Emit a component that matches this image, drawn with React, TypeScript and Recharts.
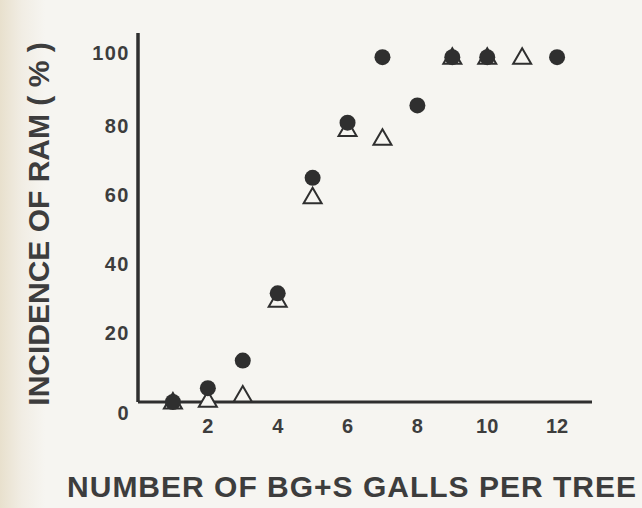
import { ScatterChart, Scatter, XAxis, YAxis, Label } from "recharts";

// number of BG+S galls per tree
const dotX = [1, 2, 3, 4, 5, 6, 7, 8, 9, 10, 12];
const dotY = [0, 4, 12, 31.5, 65, 81, 100, 86, 100, 100, 100];

const triX = [1, 2, 3, 4, 5, 6, 7, 9, 10, 11];
const triY = [0, 0.5, 2, 29.5, 59.5, 79, 76.5, 100, 100, 100];

const xTicks = [2, 4, 6, 8, 10, 12];
const yTicks = [0, 20, 40, 60, 80, 100];

const ink = "#2f2f2f";
const textInk = "#3d3d3d";
const font = '"Liberation Sans", Arial, sans-serif';

const dots = dotX.map((x, i) => ({ x, y: dotY[i] }));
const tris = triX.map((x, i) => ({ x, y: triY[i] }));

const Dot = (props: any) => (
  <circle cx={props.cx} cy={props.cy} r={8} fill={ink} />
);

const Tri = (props: any) => {
  const { cx, cy } = props;
  return (
    <polygon
      points={`${cx},${cy - 9} ${cx - 9},${cy + 6.5} ${cx + 9},${cy + 6.5}`}
      fill="#f6f5f1"
      stroke={ink}
      strokeWidth={2}
    />
  );
};

const YTick = (props: any) => {
  const { x, y, payload } = props;
  const shift = payload.value === 0 ? 11 : payload.value === 100 ? -4 : 0;
  return (
    <text
      x={x}
      y={y + shift}
      dy="0.36em"
      textAnchor="end"
      fill={textInk}
      fontSize={20}
      fontWeight="bold"
      fontFamily={font}
      letterSpacing={1.5}
    >
      {payload.value}
    </text>
  );
};

const App = () => {
  return (
    <div
      style={{
        position: "absolute",
        left: 0,
        top: 0,
        width: 642,
        height: 508,
        background:
          "linear-gradient(to right, #e8e0cd 0px, #f1ede4 22px, #f6f5f1 45px)",
      }}
    >
      <ScatterChart
        width={642}
        height={508}
        margin={{ top: 33, right: 50, bottom: 0, left: 0 }}
      >
        <XAxis
          type="number"
          dataKey="x"
          domain={[0, 13]}
          ticks={xTicks}
          height={106}
          tickLine={false}
          tickSize={0}
          tickMargin={17}
          axisLine={{ stroke: ink, strokeWidth: 3 }}
          tick={{
            fill: textInk,
            fontSize: 20,
            fontWeight: "bold",
            fontFamily: font,
          }}
        >
          <Label
            value="NUMBER OF BG+S GALLS PER TREE"
            position="insideBottom"
            offset={11}
            dx={-13}
            fill={textInk}
            fontSize={30}
            fontWeight="bold"
            fontFamily={font}
            letterSpacing={1}
          />
        </XAxis>
        <YAxis
          type="number"
          dataKey="y"
          domain={[0, 107]}
          ticks={yTicks}
          width={138}
          tickLine={false}
          tickSize={0}
          tickMargin={8}
          axisLine={{ stroke: ink, strokeWidth: 3.5 }}
          tick={<YTick />}
        >
          <Label
            content={() => (
              <text
                transform="translate(38, 224) rotate(-90)"
                textAnchor="middle"
                dominantBaseline="central"
                fill={textInk}
                fontSize={30}
                fontWeight="bold"
                fontFamily={font}
              >
                INCIDENCE OF RAM ( % )
              </text>
            )}
          />
        </YAxis>
        <Scatter data={tris} shape={<Tri />} isAnimationActive={false} />
        <Scatter data={dots} shape={<Dot />} isAnimationActive={false} />
      </ScatterChart>
    </div>
  );
};

export default App;
